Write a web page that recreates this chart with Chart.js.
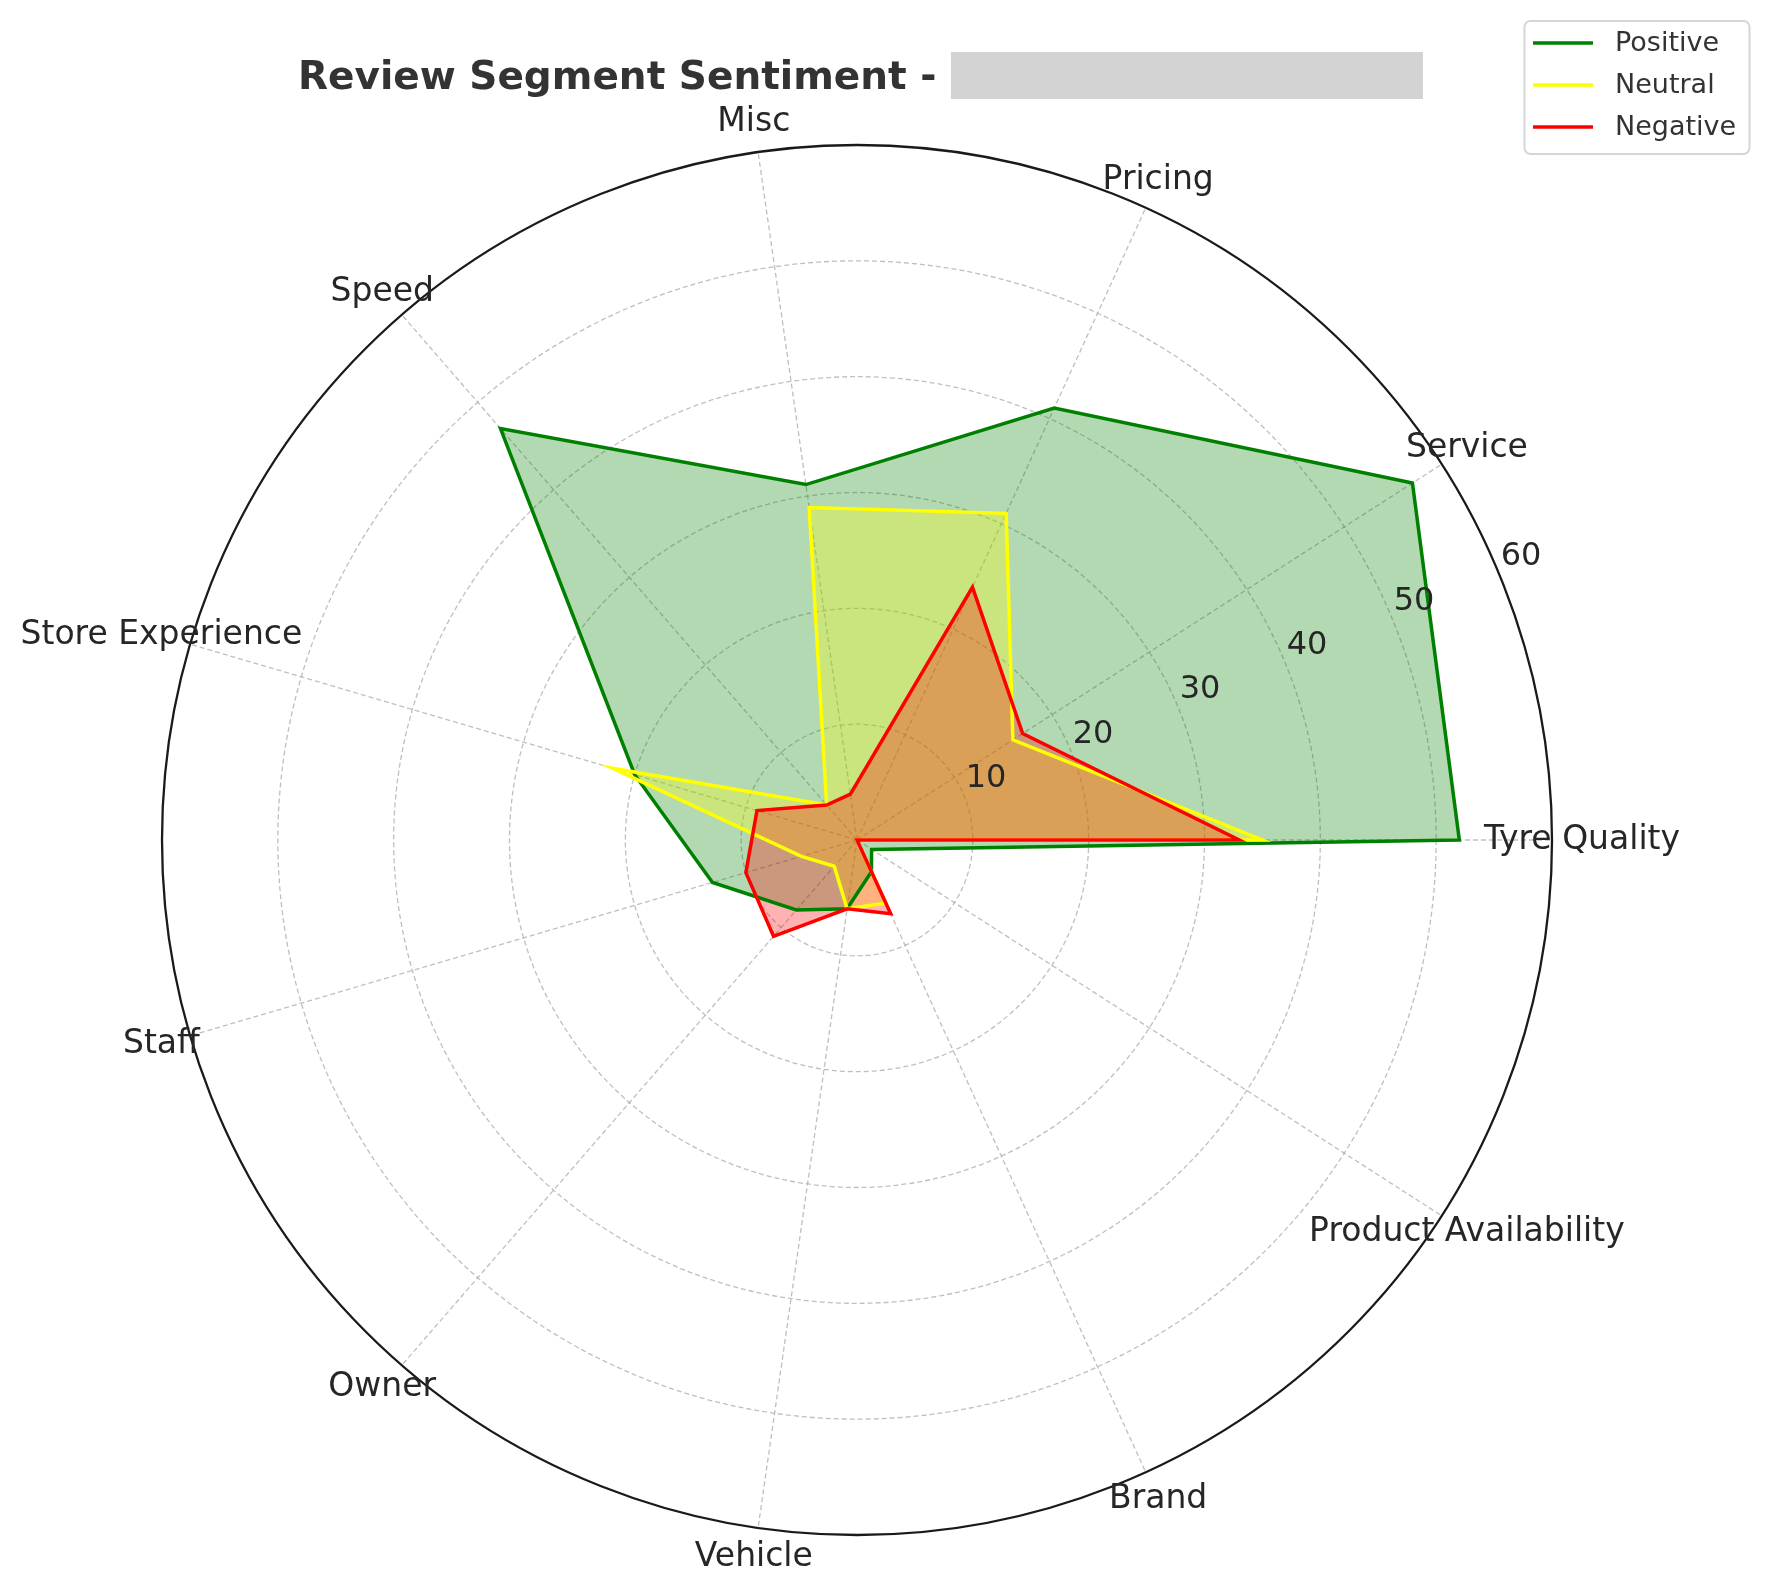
<!DOCTYPE html>
<html><head><meta charset="utf-8">
<script src="https://cdn.jsdelivr.net/npm/chart.js@4.4.1/dist/chart.umd.min.js"></script>
<style>html,body{margin:0;padding:0;background:#fff;}#wrap{width:1768px;height:1595px;position:relative;}</style>
</head><body><div id="wrap"><canvas id="c" width="1768" height="1595"></canvas></div>
<script>
const categories = ['Tyre Quality','Service','Pricing','Misc','Speed','Store Experience','Staff','Owner','Vehicle','Brand','Product Availability'];
const positiveValues = [52, 57, 41, 31, 47, 20, 13, 8, 6, 3, 1.5];
const neutralValues  = [35, 16, 31, 29, 4, 22, 5, 3, 6, 6, 0];
const negativeValues = [33, 17, 24, 4, 4, 9, 10, 11, 6, 7, 0];
const radialTicks = [10, 20, 30, 40, 50, 60];
const seriesNames = ['Positive', 'Neutral', 'Negative'];
const titleText = 'Review Segment Sentiment - ';

// matplotlib runs counter-clockwise from east; Chart.js runs clockwise
const idx = [0].concat(Array.from({length: categories.length - 1}, (_, i) => categories.length - 1 - i));
const reorder = a => idx.map(i => a[i]);

const lineColors = ['#008000', '#ffff00', '#ff0000'];
const fillColors = ['rgba(0,128,0,0.3)', 'rgba(255,255,0,0.3)', 'rgba(255,0,0,0.3)'];
const seriesData = [positiveValues, neutralValues, negativeValues];

const decor = {
  id: 'decor',
  afterDraw(chart) {
    const ctx = chart.ctx, s = chart.scales.r;
    ctx.save();
    ctx.fillStyle = '#262626';
    ctx.textAlign = 'center';
    ctx.textBaseline = 'middle';
    ctx.font = '33px "DejaVu Sans"';
    chart.data.labels.forEach((lab, i) => {
      const p = s.getPointPosition(i, s.drawingArea + 30);
      ctx.fillText(lab, p.x, p.y);
    });
    const ang = -22.5 * Math.PI / 180;
    ctx.font = '32px "DejaVu Sans"';
    radialTicks.forEach(v => {
      const d = s.getDistanceFromCenterForValue(v);
      ctx.fillText(String(v), s.xCenter + d * Math.cos(ang) + 22, s.yCenter + d * Math.sin(ang) - 17);
    });
    // title
    ctx.textAlign = 'left';
    ctx.textBaseline = 'alphabetic';
    ctx.fillStyle = '#333333';
    ctx.font = 'bold 39px "DejaVu Sans"';
    ctx.fillText(titleText, 298, 89);
    ctx.fillStyle = '#d3d3d3';
    ctx.fillRect(951, 52, 472, 47);
    // legend
    ctx.beginPath();
    ctx.roundRect(1524.5, 21, 225, 133, 6);
    ctx.fillStyle = '#ffffff';
    ctx.fill();
    ctx.strokeStyle = '#d6d6d6';
    ctx.lineWidth = 2;
    ctx.stroke();
    ctx.font = '27px "DejaVu Sans"';
    ctx.textBaseline = 'middle';
    seriesNames.forEach((n, i) => {
      const y = 43 + i * 42;
      ctx.strokeStyle = lineColors[i];
      ctx.lineWidth = 3.5;
      ctx.beginPath(); ctx.moveTo(1533, y); ctx.lineTo(1593, y); ctx.stroke();
      ctx.fillStyle = '#333333';
      ctx.fillText(n, 1615, y + 1);
    });
    ctx.restore();
  }
};

const gridGray = 'rgba(175,175,175,0.8)';
new Chart(document.getElementById('c'), {
  type: 'radar',
  data: {
    labels: reorder(categories),
    datasets: seriesNames.map((n, i) => ({
      label: n,
      data: reorder(seriesData[i]),
      borderColor: lineColors[i],
      backgroundColor: fillColors[i],
      fill: true,
      order: 3 - i
    }))
  },
  options: {
    responsive: false,
    animation: false,
    layout: {padding: {left: 162, right: 216, top: 145, bottom: 60}},
    elements: {
      line: {borderWidth: 3.5, tension: 0},
      point: {radius: 0, hoverRadius: 0, hitRadius: 0}
    },
    plugins: {
      legend: {display: false},
      title: {display: false},
      tooltip: {enabled: false},
      filler: {drawTime: 'beforeDatasetsDraw'}
    },
    scales: {
      r: {
        min: 0, max: 60,
        startAngle: 90,
        ticks: {stepSize: 10, display: false},
        pointLabels: {display: false},
        grid: {
          circular: true,
          color: c => (c.tick && c.tick.value === 60) ? '#1a1a1a' : gridGray,
          lineWidth: c => (c.tick && c.tick.value === 60) ? 2.3 : 1.3
        },
        border: {dash: c => (c.tick && c.tick.value === 60) ? [] : [5, 3]},
        angleLines: {color: gridGray, lineWidth: 1.3, borderDash: [5, 3]}
      }
    }
  },
  plugins: [decor]
});
</script></body></html>
